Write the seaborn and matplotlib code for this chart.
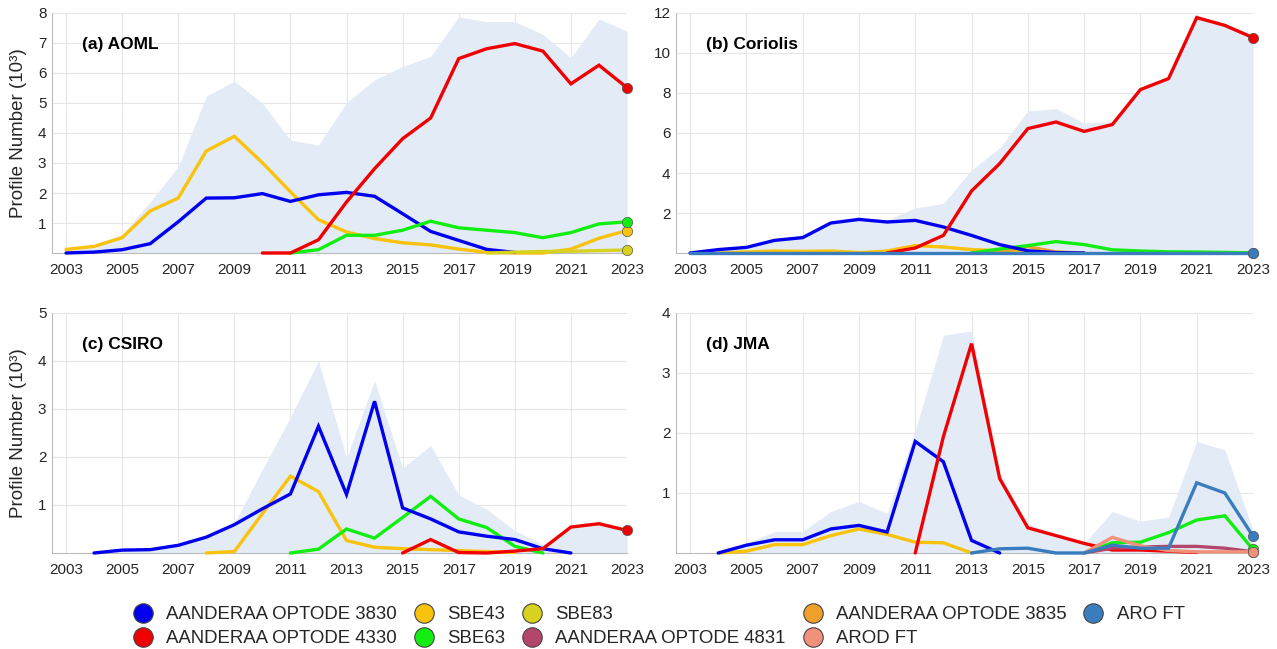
import numpy as np
import pandas as pd
import matplotlib
matplotlib.use("Agg")
import matplotlib.pyplot as plt
from matplotlib.lines import Line2D
import seaborn as sns

N = None
YEARS = list(range(2003, 2024))

# ---- (a) AOML ----
a_3830 = [0.0, 0.03, 0.11, 0.31, 1.04, 1.83, 1.84, 1.98, 1.72, 1.94, 2.02, 1.89, 1.31, 0.72, 0.42, 0.12, 0.02, N, N, N, N]
a_sbe43 = [0.12, 0.22, 0.51, 1.40, 1.83, 3.40, 3.89, 3.01, 2.04, 1.11, 0.70, 0.48, 0.34, 0.27, 0.13, 0.02, 0.0, 0.0, 0.13, 0.49, 0.75]
a_4330 = [N] * 7 + [0.0, 0.0, 0.44, 1.70, 2.81, 3.81, 4.50, 6.48, 6.81, 6.98, 6.73, 5.64, 6.26, 5.51]
a_sbe63 = [N] * 8 + [0.0, 0.11, 0.59, 0.59, 0.76, 1.06, 0.84, 0.76, 0.68, 0.51, 0.68, 0.97, 1.04]
a_sbe83 = [N] * 15 + [0.0, 0.03, 0.05, 0.06, 0.08, 0.10]

# ---- (b) Coriolis ----
b_3830 = [0.0, 0.17, 0.28, 0.63, 0.77, 1.50, 1.68, 1.55, 1.63, 1.30, 0.88, 0.42, 0.11, 0.02, 0.0, N, N, N, N, N, N]
b_sbe43 = [N, 0.0, 0.05, 0.10, 0.08, 0.10, 0.02, 0.10, 0.37, 0.30, 0.17, 0.12, 0.08, 0.03, 0.0, N, N, N, N, N, N]
b_4330 = [N] * 7 + [0.0, 0.25, 0.88, 3.10, 4.47, 6.22, 6.55, 6.08, 6.42, 8.17, 8.72, 11.77, 11.38, 10.77]
b_3835 = [N] * 10 + [0.0, 0.05, 0.32, 0.05, 0.0] + [N] * 6
b_sbe63 = [N] * 10 + [0.0, 0.20, 0.37, 0.57, 0.42, 0.16, 0.10, 0.06, 0.05, 0.03, 0.01]
b_aro = [0.0] * 21

# ---- (c) CSIRO ----
c_3830 = [N, 0.0, 0.06, 0.07, 0.16, 0.33, 0.59, 0.92, 1.23, 2.64, 1.22, 3.16, 0.94, 0.71, 0.44, 0.35, 0.28, 0.09, 0.0, N, N]
c_sbe43 = [N] * 5 + [0.0, 0.03, 0.82, 1.60, 1.28, 0.26, 0.12, 0.09, 0.07, 0.05, 0.03, 0.01] + [N] * 4
c_sbe63 = [N] * 8 + [0.0, 0.08, 0.50, 0.31, 0.74, 1.18, 0.71, 0.53, 0.14, 0.0] + [N] * 3
c_4330 = [N] * 12 + [0.0, 0.28, 0.01, 0.0, 0.04, 0.09, 0.54, 0.61, 0.47]

# ---- (d) JMA ----
d_3830 = [N, 0.0, 0.13, 0.22, 0.22, 0.40, 0.46, 0.35, 1.86, 1.52, 0.21, 0.0] + [N] * 9
d_sbe43 = [N, 0.0, 0.03, 0.14, 0.14, 0.29, 0.40, 0.31, 0.18, 0.17, 0.0] + [N] * 10
d_4330 = [N] * 8 + [0.0, 1.94, 3.49, 1.24, 0.42, 0.29, 0.16, 0.05, 0.05, 0.03, 0.01] + [N] * 2
d_aro = [N] * 10 + [0.0, 0.07, 0.08, 0.0, 0.0, 0.13, 0.08, 0.08, 1.17, 1.00, 0.28]
d_sbe63 = [N] * 14 + [0.0, 0.17, 0.18, 0.34, 0.55, 0.62, 0.06]
d_arod = [N] * 14 + [0.0, 0.26, 0.12, 0.04, 0.02, 0.02, 0.02]
d_4831 = [N] * 14 + [0.0, 0.08, 0.10, 0.11, 0.11, 0.08, 0.02]

SENSORS = ["AANDERAA OPTODE 3830", "AANDERAA OPTODE 4330", "SBE43", "SBE63", "SBE83",
           "AANDERAA OPTODE 4831", "AANDERAA OPTODE 3835", "AROD FT", "ARO FT"]
COLORS = {
    "AANDERAA OPTODE 3830": "#0000EE",
    "AANDERAA OPTODE 4330": "#F00000",
    "SBE43": "#F9C20C",
    "SBE63": "#12EE12",
    "SBE83": "#D8D21E",
    "AANDERAA OPTODE 4831": "#B5466B",
    "AANDERAA OPTODE 3835": "#EDA02A",
    "AROD FT": "#F2917A",
    "ARO FT": "#3A7DBF",
}

PANELS = [
    ("(a) AOML", [("SBE43", a_sbe43), ("AANDERAA OPTODE 3830", a_3830), ("SBE63", a_sbe63),
                  ("SBE83", a_sbe83), ("AANDERAA OPTODE 4330", a_4330)], 8, [1, 2, 3, 4, 5, 6, 7, 8], True),
    ("(b) Coriolis", [("SBE43", b_sbe43), ("AANDERAA OPTODE 3835", b_3835), ("SBE63", b_sbe63),
                      ("AANDERAA OPTODE 3830", b_3830), ("AANDERAA OPTODE 4330", b_4330), ("ARO FT", b_aro)],
     12, [2, 4, 6, 8, 10, 12], False),
    ("(c) CSIRO", [("SBE43", c_sbe43), ("SBE63", c_sbe63), ("AANDERAA OPTODE 3830", c_3830),
                   ("AANDERAA OPTODE 4330", c_4330)], 5, [1, 2, 3, 4, 5], True),
    ("(d) JMA", [("SBE43", d_sbe43), ("AANDERAA OPTODE 3830", d_3830), ("AANDERAA OPTODE 4330", d_4330),
                 ("AANDERAA OPTODE 4831", d_4831), ("SBE63", d_sbe63), ("AROD FT", d_arod), ("ARO FT", d_aro)],
     4, [1, 2, 3, 4], False),
]

sns.set_theme(style="whitegrid")
plt.rcParams["font.family"] = ["Liberation Sans", "DejaVu Sans"]

W, H = 1277, 649
fig = plt.figure(figsize=(W / 100, H / 100), dpi=100)
boxes = [(52, 13, 627, 253), (676, 13, 1253, 253), (52, 313, 627, 553), (676, 313, 1253, 553)]

FILL = "#E3EBF7"
for (title, series, ymax, yticks, ylab), (x0, y0, x1, y1) in zip(PANELS, boxes):
    ax = fig.add_axes([x0 / W, 1 - y1 / H, (x1 - x0) / W, (y1 - y0) / H])
    ax.set_facecolor("white")
    total = np.zeros(len(YEARS))
    for _, vals in series:
        total += np.array([0.0 if v is None else v for v in vals])
    ax.fill_between(YEARS, 0, total, color=FILL, lw=0, zorder=1)
    for name, vals in series:
        df = pd.DataFrame({"year": YEARS, "n": [np.nan if v is None else v for v in vals]}).dropna()
        sns.lineplot(data=df, x="year", y="n", ax=ax, color=COLORS[name], lw=2.4,
                     estimator=None, legend=False, zorder=3, solid_joinstyle="miter", clip_on=False)
    for name, vals in series:
        if vals[-1] is not None:
            sns.scatterplot(x=[YEARS[-1]], y=[vals[-1]], ax=ax, color=COLORS[name], s=55,
                            edgecolor="#555555", linewidth=0.5, zorder=5, clip_on=False, legend=False)
    ax.set_xlim(2002.5, 2023)
    ax.set_ylim(0, ymax)
    ax.set_xticks(list(range(2003, 2024, 2)))
    ax.set_yticks(yticks)
    ax.tick_params(axis="both", labelsize=11, colors="#262626", direction="in", length=3, width=0.6)
    ax.tick_params(axis="x", pad=7)
    ax.tick_params(axis="y", pad=4)
    ax.tick_params(axis="both", color="#AAAAAA")
    ax.grid(True, color="#E6E6E6", lw=0.8)
    ax.set_axisbelow(True)
    for s in ["top", "right"]:
        ax.spines[s].set_visible(False)
    for s in ["left", "bottom"]:
        ax.spines[s].set_color("#BBBBBB")
        ax.spines[s].set_linewidth(0.8)
    ax.set_xlabel("")
    if ylab:
        ax.set_ylabel("Profile Number (10³)", fontsize=13.5, color="#262626")
        ax.yaxis.set_label_coords(-0.044, 0.5)
    else:
        ax.set_ylabel("")
    ax.text(0.052, 0.87, title, transform=ax.transAxes, fontsize=12.5, fontweight="bold",
            color="black", va="center", ha="left", zorder=6)

handles = [Line2D([], [], marker="o", ls="none", ms=14, mfc=COLORS[n], mec="#444444", mew=0.8)
           for n in SENSORS]
fig.legend(handles, SENSORS, loc="upper left", bbox_to_anchor=(134.0 / W, 1 - 606.0 / H), ncol=5,
           frameon=False, fontsize=13.4, handlelength=1.0, handletextpad=0.74, columnspacing=0.95,
           labelspacing=0.38, borderpad=0, borderaxespad=0)

fig.savefig("out.png", dpi=100, facecolor="white")
